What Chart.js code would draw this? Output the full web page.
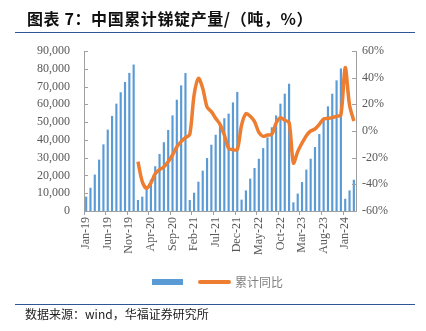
<!DOCTYPE html>
<html>
<head>
<meta charset="utf-8">
<script src="https://cdn.jsdelivr.net/npm/chart.js@4"></script>
<style>
  html, body { margin: 0; padding: 0; background: #fff; }
  #wrap { position: relative; width: 426px; height: 331px; overflow: hidden; }
  #chart { position: absolute; left: 0; top: 0; }
  .title { position: absolute; left: 27px; top: 6px; font: bold 16px "Noto Sans CJK SC", sans-serif; letter-spacing: 0.6px; color: #111; white-space: nowrap; }
  .rule { position: absolute; left: 15px; width: 400px; height: 0; border-top: 1.5px solid #2f5597; }
  .source { position: absolute; left: 25px; top: 305px; font: 12px "Noto Sans CJK SC", sans-serif; color: #222; white-space: nowrap; }
  .leg-bar { position: absolute; left: 152px; top: 279px; width: 31px; height: 6px; background: #5b9bd5; }
  .leg-line { position: absolute; left: 198px; top: 280px; width: 33px; height: 4px; border-radius: 2px; background: #ed7d31; }
  .leg-text { position: absolute; left: 235px; top: 273px; font: 12px "Noto Sans CJK SC", sans-serif; color: #808080; white-space: nowrap; }
</style>
</head>
<body>
<div id="wrap">
  <canvas id="chart" width="426" height="331"></canvas>
  <div class="title">图表 7：中国累计锑锭产量/（吨，%）</div>
  <div class="rule" style="top:32px"></div>
  <div class="leg-bar"></div>
  <div class="leg-line"></div>
  <div class="leg-text">累计同比</div>
  <div class="rule" style="top:304px"></div>
  <div class="source">数据来源：wind，华福证券研究所</div>
</div>
<script>
const months = [
    'Jan-19', 'Feb-19', 'Mar-19', 'Apr-19', 'May-19', 'Jun-19', 'Jul-19', 'Aug-19', 'Sep-19', 'Oct-19', 'Nov-19', 'Dec-19',
    'Jan-20', 'Feb-20', 'Mar-20', 'Apr-20', 'May-20', 'Jun-20', 'Jul-20', 'Aug-20', 'Sep-20', 'Oct-20', 'Nov-20', 'Dec-20',
    'Jan-21', 'Feb-21', 'Mar-21', 'Apr-21', 'May-21', 'Jun-21', 'Jul-21', 'Aug-21', 'Sep-21', 'Oct-21', 'Nov-21', 'Dec-21',
    'Jan-22', 'Feb-22', 'Mar-22', 'Apr-22', 'May-22', 'Jun-22', 'Jul-22', 'Aug-22', 'Sep-22', 'Oct-22', 'Nov-22', 'Dec-22',
    'Jan-23', 'Feb-23', 'Mar-23', 'Apr-23', 'May-23', 'Jun-23', 'Jul-23', 'Aug-23', 'Sep-23', 'Oct-23', 'Nov-23', 'Dec-23',
    'Jan-24', 'Feb-24', 'Mar-24'
];

// 累计产量（吨）
const output = [
    7900, 12900, 20300, 28700, 37300, 45600, 53300, 60200, 66600, 72400, 77500, 82200,
    6000, 7900, 12000, 17500, 25000, 31900, 38500, 45400, 53600, 62400, 70500, 77400,
    6000, 10100, 16300, 22500, 29600, 37100, 42700, 47700, 52000, 54600, 60900, 66800,
    6200, 11400, 18000, 24000, 29200, 35200, 41200, 46900, 53600, 60200, 65800, 71400,
    4700, 9600, 16100, 23100, 29200, 35800, 43100, 51700, 58700, 65800, 73300, 80000,
    6700, 11400, 17400
];

// 累计同比（%）
const yoy = [
    null, null, null, null, null, null, null, null, null, null, null, null,
    -23, -38, -43, -39, -32, -29, -27, -23, -18, -12, -8, -5,
    -2.5, 27, 39.5, 32, 18, 14.5, 9.5, 5, -3, -13, -14, -14,
    4.5, 13, 11, 7, -1, -4, -3, -2.5, 6, 10, 8, 6.5,
    -24, -15.5, -9, -3.5, 0, 1.5, 5, 9, 9.5, 10, 11, 12,
    47.5, 19.5, 7.5
];

const tickFont = { family: '"Liberation Serif", "Times New Roman", serif', size: 12 };
const tickColor = '#595959';
const axisColor = '#a0a0a0';

// y 轴刻度线朝内
const innerTicks = {
    id: 'innerTicks',
    afterDraw(chart) {
        const ctx = chart.ctx;
        ctx.save();
        ctx.strokeStyle = axisColor;
        ctx.lineWidth = 1;
        ['y', 'y1'].forEach(id => {
            const scale = chart.scales[id];
            const x = id === 'y' ? scale.right : scale.left;
            const dir = id === 'y' ? 1 : -1;
            scale.ticks.forEach(t => {
                const y = Math.round(scale.getPixelForValue(t.value)) + 0.5;
                ctx.beginPath();
                ctx.moveTo(x, y);
                ctx.lineTo(x + dir * 4, y);
                ctx.stroke();
            });
        });
        ctx.restore();
    }
};

new Chart(document.getElementById('chart'), {
    data: {
        labels: months,
        datasets: [
            {
                type: 'line',
                label: '累计同比',
                data: yoy,
                yAxisID: 'y1',
                borderColor: '#ed7d31',
                borderWidth: 3.5,
                pointRadius: 0,
                tension: 0.3,
                order: 0
            },
            {
                type: 'bar',
                label: '',
                data: output,
                yAxisID: 'y',
                backgroundColor: '#5b9bd5',
                barThickness: 1.5,
                order: 1
            }
        ]
    },
    options: {
        responsive: false,
        animation: false,
        layout: { padding: { left: 0, right: 0, top: 51, bottom: 70 } },
        plugins: {
            legend: { display: false },
            tooltip: { enabled: false }
        },
        scales: {
            x: {
                offset: true,
                grid: {
                    offset: true,
                    drawOnChartArea: false,
                    tickLength: 4,
                    color: c => (c.index % 5 === 0 ? axisColor : 'rgba(0,0,0,0)')
                },
                border: { color: axisColor },
                ticks: {
                    autoSkip: false,
                    minRotation: 90,
                    maxRotation: 90,
                    padding: 2,
                    font: tickFont,
                    color: tickColor,
                    callback: (v, i) => (i % 5 === 0 ? months[i] : '')
                },
                afterFit: s => { s.height = 50; }
            },
            y: {
                position: 'left',
                min: 0,
                max: 90000,
                ticks: {
                    stepSize: 10000,
                    padding: 14,
                    font: tickFont,
                    color: tickColor,
                    callback: v => v.toLocaleString('en-US')
                },
                grid: { display: false, drawTicks: false },
                border: { color: axisColor },
                afterFit: s => { s.width = 84; }
            },
            y1: {
                position: 'right',
                min: -60,
                max: 60,
                ticks: {
                    stepSize: 20,
                    padding: 6,
                    font: tickFont,
                    color: tickColor,
                    callback: v => v + '%'
                },
                grid: { display: false, drawTicks: false },
                border: { color: axisColor },
                afterFit: s => { s.width = 70; }
            }
        }
    },
    plugins: [innerTicks]
});
</script>
</body>
</html>
